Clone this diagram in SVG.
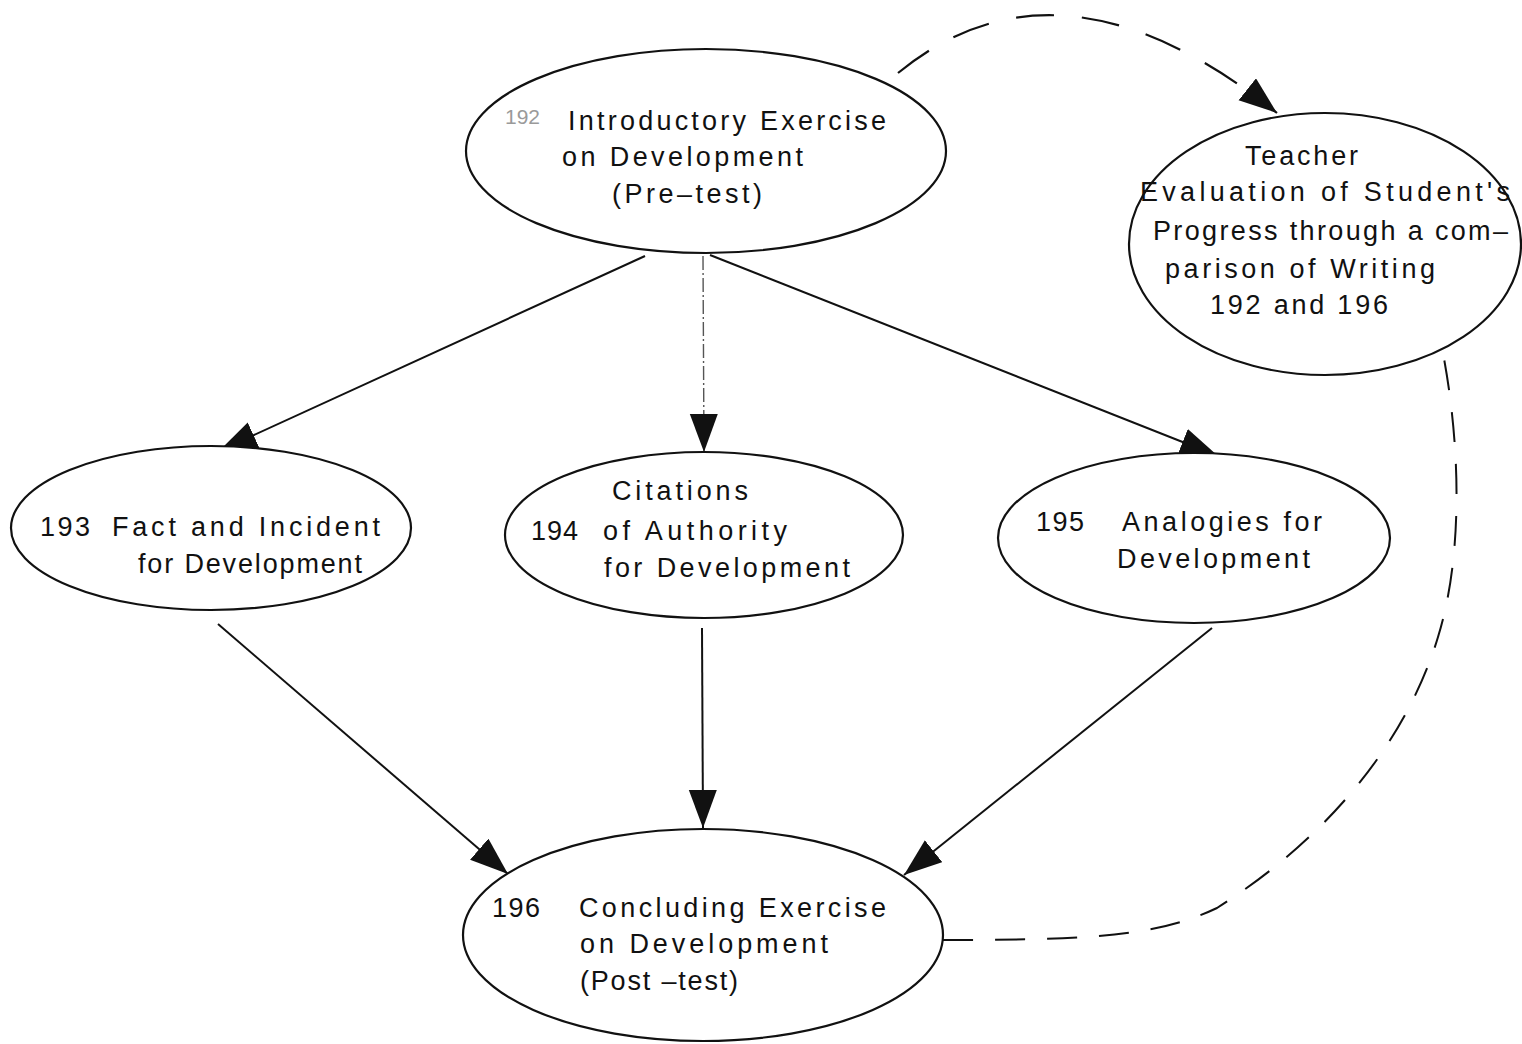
<svg xmlns="http://www.w3.org/2000/svg" width="1522" height="1044" viewBox="0 0 1522 1044">
  <style>
    .node ellipse { fill: #ffffff; stroke: #111; stroke-width: 2.2; }
    .node text { font-family: "Liberation Sans", "DejaVu Sans", sans-serif; font-size: 27px; fill: #111; }
    .node text.faint { fill: #9a9a9a; font-size: 21px; }
    .edge { fill: none; stroke: #111; stroke-width: 2; }
    .edge.light { stroke: #555; stroke-width: 1.4; stroke-dasharray: 14 3 2 3; }
    .edge.dashed-top { stroke-width: 2.2; stroke-dasharray: 38 28; }
    .edge.dashed-side { stroke-width: 2; stroke-dasharray: 30 22; }
  </style>
  <defs>
    <marker id="arrow" markerUnits="userSpaceOnUse" markerWidth="40" markerHeight="32" refX="38" refY="14" orient="auto">
      <path d="M0,0 L38,14 L0,28 Z" fill="#111"/>
    </marker>
  </defs>
  <rect width="1522" height="1044" fill="#ffffff"/>

  <!-- connectors -->
  <g id="connectors">
    <line class="edge" x1="645" y1="256" x2="219" y2="451" marker-end="url(#arrow)"/>
    <line class="edge light" x1="703" y1="256" x2="704" y2="452" marker-end="url(#arrow)"/>
    <line class="edge" x1="710" y1="255" x2="1218" y2="456" marker-end="url(#arrow)"/>
    <line class="edge" x1="218" y1="624" x2="508" y2="874" marker-end="url(#arrow)"/>
    <line class="edge" x1="702" y1="628" x2="703" y2="828" marker-end="url(#arrow)"/>
    <line class="edge" x1="1212" y1="628" x2="904" y2="875" marker-end="url(#arrow)"/>
    <!-- 192 to teacher evaluation -->
    <path class="edge dashed-top" d="M898,73 Q1060,-60 1277,113" marker-end="url(#arrow)"/>
    <!-- 196 to teacher evaluation, no arrowhead -->
    <path class="edge dashed-side" d="M943,940 C1100,940 1160,935 1217,908 C1340,830 1410,730 1438,637 C1462,560 1462,450 1442,348"/>
  </g>

  <!-- 192 -->
  <g id="node-192" class="node">
    <ellipse cx="706" cy="151" rx="240" ry="102"/>
    <text class="faint" x="505" y="124">192</text>
    <text x="568" y="130" textLength="318" lengthAdjust="spacing">Introductory Exercise</text>
    <text x="562" y="166" textLength="241" lengthAdjust="spacing">on Development</text>
    <text x="612" y="203" textLength="150" lengthAdjust="spacing">(Pre–test)</text>
  </g>

  <!-- teacher evaluation -->
  <g id="node-eval" class="node">
    <ellipse cx="1325" cy="244" rx="196" ry="131"/>
    <text x="1245" y="165" textLength="113" lengthAdjust="spacing">Teacher</text>
    <text x="1140" y="201" textLength="370" lengthAdjust="spacing">Evaluation of Student's</text>
    <text x="1153" y="240" textLength="355" lengthAdjust="spacing">Progress through a com–</text>
    <text x="1165" y="278" textLength="270" lengthAdjust="spacing">parison of Writing</text>
    <text x="1210" y="314" textLength="178" lengthAdjust="spacing">192 and 196</text>
  </g>

  <!-- 193 -->
  <g id="node-193" class="node">
    <ellipse cx="211" cy="528" rx="200" ry="82"/>
    <text x="40" y="536" textLength="50" lengthAdjust="spacing">193</text>
    <text x="112" y="536" textLength="268" lengthAdjust="spacing">Fact and Incident</text>
    <text x="138" y="573" textLength="224" lengthAdjust="spacing">for Development</text>
  </g>

  <!-- 194 -->
  <g id="node-194" class="node">
    <ellipse cx="704" cy="535" rx="199" ry="83"/>
    <text x="612" y="500" textLength="136" lengthAdjust="spacing">Citations</text>
    <text x="531" y="540" textLength="47" lengthAdjust="spacing">194</text>
    <text x="603" y="540" textLength="184" lengthAdjust="spacing">of Authority</text>
    <text x="604" y="577" textLength="246" lengthAdjust="spacing">for Development</text>
  </g>

  <!-- 195 -->
  <g id="node-195" class="node">
    <ellipse cx="1194" cy="538" rx="196" ry="85"/>
    <text x="1036" y="531" textLength="48" lengthAdjust="spacing">195</text>
    <text x="1122" y="531" textLength="200" lengthAdjust="spacing">Analogies for</text>
    <text x="1117" y="568" textLength="193" lengthAdjust="spacing">Development</text>
  </g>

  <!-- 196 -->
  <g id="node-196" class="node">
    <ellipse cx="703" cy="935" rx="240" ry="106"/>
    <text x="492" y="917" textLength="48" lengthAdjust="spacing">196</text>
    <text x="579" y="917" textLength="307" lengthAdjust="spacing">Concluding Exercise</text>
    <text x="580" y="953" textLength="248" lengthAdjust="spacing">on Development</text>
    <text x="580" y="990" textLength="158" lengthAdjust="spacing">(Post –test)</text>
  </g>
</svg>
